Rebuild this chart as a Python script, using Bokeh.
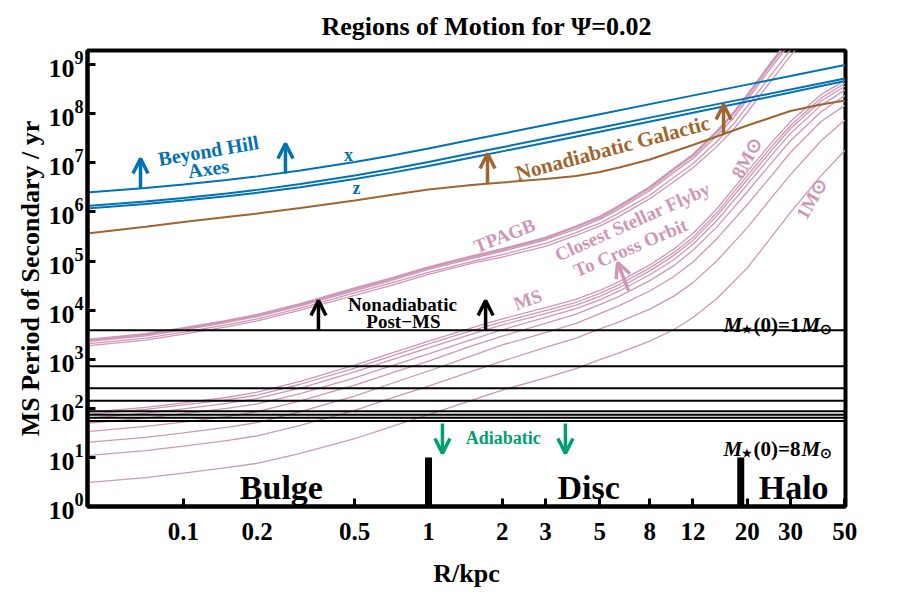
import numpy as np
from bokeh.plotting import figure
from bokeh.models import Span, Label, Arrow, OpenHead, FixedTicker, LogTickFormatter
from bokeh.embed import file_html
from bokeh.resources import INLINE

# ---------------- data ----------------
# galactocentric distance samples (kpc)
R_GRID = [0.04, 0.07, 0.1, 0.15, 0.2, 0.3, 0.5, 0.7, 1, 1.5, 2, 3, 4, 5, 6, 8, 10, 12, 15, 20, 25, 30, 40, 50]

# MS curves: log10(period / yr), one per initial stellar mass 1..8 Msun
MS_8_LOGP = [1.914, 2.02, 2.11, 2.22, 2.33, 2.55, 2.88, 3.12, 3.37, 3.64, 3.82, 4.05, 4.22, 4.40, 4.58, 4.92, 5.24, 5.56, 6.06, 6.82, 7.40, 7.84, 8.39, 8.68]
MS_7_LOGP = [1.874, 1.98, 2.07, 2.17, 2.27, 2.49, 2.82, 3.06, 3.31, 3.58, 3.76, 3.99, 4.16, 4.34, 4.52, 4.86, 5.17, 5.48, 5.98, 6.74, 7.32, 7.76, 8.32, 8.62]
MS_6_LOGP = [1.794, 1.90, 1.99, 2.10, 2.20, 2.41, 2.74, 2.98, 3.23, 3.51, 3.70, 3.93, 4.10, 4.28, 4.46, 4.80, 5.11, 5.42, 5.92, 6.66, 7.24, 7.70, 8.26, 8.56]
MS_5_LOGP = [1.694, 1.80, 1.89, 2.00, 2.09, 2.30, 2.62, 2.86, 3.11, 3.40, 3.60, 3.85, 4.03, 4.21, 4.39, 4.72, 5.02, 5.34, 5.82, 6.56, 7.14, 7.60, 8.17, 8.48]
MS_4_LOGP = [1.524, 1.63, 1.72, 1.83, 1.93, 2.15, 2.47, 2.71, 2.96, 3.27, 3.47, 3.73, 3.92, 4.11, 4.28, 4.60, 4.90, 5.22, 5.69, 6.41, 6.99, 7.45, 8.04, 8.37]
MS_3_LOGP = [1.304, 1.41, 1.50, 1.61, 1.71, 1.93, 2.25, 2.50, 2.76, 3.07, 3.29, 3.54, 3.73, 3.93, 4.09, 4.39, 4.68, 4.98, 5.45, 6.15, 6.73, 7.21, 7.84, 8.17]
MS_2_LOGP = [1.034, 1.14, 1.23, 1.34, 1.44, 1.65, 1.96, 2.20, 2.45, 2.75, 2.96, 3.24, 3.43, 3.62, 3.76, 4.02, 4.28, 4.56, 5.00, 5.68, 6.28, 6.76, 7.45, 7.87]
MS_1_LOGP = [0.484, 0.59, 0.68, 0.79, 0.88, 1.08, 1.38, 1.62, 1.87, 2.16, 2.37, 2.62, 2.81, 2.99, 3.13, 3.37, 3.60, 3.85, 4.23, 4.86, 5.48, 5.99, 6.74, 7.25]

# TPAGB bundle: log10(period / yr)
R_TPAGB = [0.04, 0.07, 0.1, 0.15, 0.2, 0.3, 0.5, 0.7, 1, 1.5, 2, 3, 4, 5, 6, 8, 10, 12, 15, 17.5, 20, 25, 30, 35, 40]
TPAGB_A_LOGP = [3.39, 3.51, 3.63, 3.78, 3.90, 4.12, 4.44, 4.64, 4.87, 5.09, 5.24, 5.47, 5.70, 5.90, 6.12, 6.50, 6.87, 7.16, 7.63, 8.00, 8.37, 9.03, 9.54, 9.95, 10.29]
TPAGB_B_LOGP = [3.36, 3.48, 3.60, 3.75, 3.87, 4.09, 4.40, 4.60, 4.83, 5.05, 5.20, 5.43, 5.65, 5.85, 6.06, 6.44, 6.80, 7.09, 7.55, 7.91, 8.29, 8.94, 9.45, 9.86, 10.20]
TPAGB_C_LOGP = [3.31, 3.43, 3.55, 3.70, 3.82, 4.04, 4.35, 4.55, 4.77, 4.99, 5.13, 5.36, 5.58, 5.77, 5.98, 6.34, 6.70, 6.98, 7.43, 7.78, 8.15, 8.79, 9.30, 9.71, 10.05]
TPAGB_D_LOGP = [3.27, 3.39, 3.51, 3.66, 3.78, 4.00, 4.30, 4.50, 4.73, 4.95, 5.08, 5.30, 5.52, 5.71, 5.91, 6.27, 6.61, 6.90, 7.33, 7.67, 8.03, 8.67, 9.18, 9.59, 9.93]

# Beyond-Hill curves for the x, y, z axes: log10(period / yr)
R_BLUE = [0.04, 0.07, 0.1, 0.15, 0.2, 0.3, 0.5, 0.7, 1, 1.5, 2, 3, 5, 10, 20, 50]
HILL_X_LOGP = [6.395, 6.487, 6.557, 6.649, 6.724, 6.844, 7.017, 7.145, 7.292, 7.468, 7.593, 7.769, 7.991, 8.292, 8.593, 8.991]
HILL_Y_LOGP = [6.120, 6.212, 6.282, 6.374, 6.449, 6.569, 6.742, 6.870, 7.017, 7.193, 7.318, 7.494, 7.716, 8.017, 8.318, 8.716]
HILL_Z_LOGP = [6.070, 6.162, 6.232, 6.319, 6.389, 6.504, 6.672, 6.795, 6.937, 7.108, 7.233, 7.409, 7.631, 7.937, 8.248, 8.666]

# Nonadiabatic galactic boundary: log10(period / yr), on R_GRID
GALACTIC_LOGP = [5.560, 5.700, 5.794, 5.896, 5.967, 6.080, 6.232, 6.344, 6.456, 6.548, 6.599, 6.670,
                 6.731, 6.813, 6.904, 7.067, 7.230, 7.363, 7.536, 7.760, 7.923, 8.055, 8.188, 8.269]

# Nonadiabatic post-MS limits for M*(0) = 1..8 Msun (period / yr)
POSTMS_P = [3900, 720, 255, 142, 87, 74, 64, 55]

# Bulge/Disc and Disc/Halo boundaries (kpc) and bar extent (yr)
BOUNDARY_R = [1.0, 18.8]
BAR_P = [1, 10]

X_TICKS = [0.1, 0.2, 0.5, 1, 2, 3, 5, 8, 12, 20, 30, 50]
X_TICK_LABELS = ["0.1", "0.2", "0.5", "1", "2", "3", "5", "8", "12", "20", "30", "50"]
Y_TICKS = [1, 10, 100, 1e3, 1e4, 1e5, 1e6, 1e7, 1e8, 1e9]

# arrows: (x_start, y_start, x_end, y_end)
BLUE_ARROWS = [(0.0668, 3.0e6, 0.0668, 1.22e7), (0.2608, 6.05e6, 0.2608, 2.47e7)]
BROWN_ARROWS = [(1.741, 3.79e6, 1.741, 1.55e7), (16.0, 3.77e7, 16.0, 1.54e8)]
BLACK_ARROWS = [(0.3556, 3900, 0.3556, 1.57e4), (1.71, 3900, 1.71, 1.57e4)]
TEAL_ARROWS = [(1.14, 49, 1.14, 12), (3.62, 49, 3.62, 12)]
PINK_ARROWS = [(6.55, 2.5e4, 5.91, 9.3e4)]

# ---------------- styling ----------------
BLUE = "#0072B2"
BROWN = "#A0652D"
PINK = "#CF97B6"
TEAL = "#009E73"
SERIF = "Liberation Serif"

p = figure(width=891, height=591, x_axis_type="log", y_axis_type="log",
           x_range=(0.0406, 50.3), y_range=(1, 1.94e9),
           output_backend="svg", toolbar_location=None,
           min_border_left=87, min_border_right=46, min_border_top=50, min_border_bottom=85)

p.title.text = "Regions of Motion for \u03a8=0.02"
p.title.text_font = SERIF
p.title.text_font_size = "26px"
p.title.text_font_style = "bold"
p.title.text_color = "black"
p.title.align = "left"
p.title.offset = 234
p.title.standoff = 19

p.grid.visible = False
p.outline_line_color = "black"
p.outline_line_width = 4
p.outline_line_alpha = 1.0
p.background_fill_color = "white"
p.border_fill_color = "white"

p.xaxis.ticker = FixedTicker(ticks=X_TICKS)
p.xaxis.major_label_overrides = {t: lab for t, lab in zip(X_TICKS, X_TICK_LABELS)}
p.yaxis.ticker = FixedTicker(ticks=Y_TICKS)
p.yaxis.formatter = LogTickFormatter()

for ax in (p.xaxis[0], p.yaxis[0]):
    ax.major_tick_in = 8
    ax.major_tick_out = 0
    ax.major_tick_line_width = 3
    ax.minor_tick_line_color = None
    ax.axis_line_width = 4
    ax.major_label_text_font = SERIF
    ax.major_label_text_font_style = "bold"
    ax.major_label_text_color = "black"

p.xaxis.major_label_text_font_size = "25px"
p.yaxis.major_label_text_font_size = "26px"
p.xaxis.major_label_standoff = 16
p.yaxis.major_label_standoff = 4

p.xaxis.axis_label = "R/kpc"
p.xaxis.axis_label_text_font = SERIF
p.xaxis.axis_label_text_font_style = "bold"
p.xaxis.axis_label_text_font_size = "26px"
p.xaxis.axis_label_text_color = "black"
p.xaxis.axis_label_standoff = 16

p.yaxis.axis_label = "MS Period of Secondary / yr"
p.yaxis.axis_label_text_font = SERIF
p.yaxis.axis_label_text_font_style = "bold"
p.yaxis.axis_label_text_font_size = "26px"
p.yaxis.axis_label_text_color = "black"
p.yaxis.axis_label_standoff = 0

# ---------------- curves ----------------
for ms in (MS_1_LOGP, MS_2_LOGP, MS_3_LOGP, MS_4_LOGP, MS_5_LOGP, MS_6_LOGP, MS_7_LOGP, MS_8_LOGP):
    p.line(R_GRID, np.power(10.0, ms), line_color=PINK, line_width=1.3)

for tp, w in ((TPAGB_A_LOGP, 2.6), (TPAGB_B_LOGP, 1.5), (TPAGB_C_LOGP, 1.3), (TPAGB_D_LOGP, 1.3)):
    p.line(R_TPAGB, np.power(10.0, tp), line_color=PINK, line_width=w)

for hill in (HILL_X_LOGP, HILL_Y_LOGP, HILL_Z_LOGP):
    p.line(R_BLUE, np.power(10.0, hill), line_color=BLUE, line_width=2)

p.line(R_GRID, np.power(10.0, GALACTIC_LOGP), line_color=BROWN, line_width=2)

for per in POSTMS_P:
    p.add_layout(Span(location=per, dimension="width", line_color="black", line_width=2))

p.segment(x0=BOUNDARY_R, y0=[BAR_P[0]] * len(BOUNDARY_R), x1=BOUNDARY_R,
          y1=[BAR_P[1]] * len(BOUNDARY_R), line_color="black", line_width=7)

# ---------------- arrows ----------------
def add_arrows(lst, color):
    for (xs, ys, xe, ye) in lst:
        p.add_layout(Arrow(end=OpenHead(size=15, line_width=3.5, line_color=color),
                           x_start=xs, y_start=ys, x_end=xe, y_end=ye,
                           line_color=color, line_width=3.5))

add_arrows(BLUE_ARROWS, BLUE)
add_arrows(BROWN_ARROWS, BROWN)
add_arrows(BLACK_ARROWS, "black")
add_arrows(TEAL_ARROWS, TEAL)
add_arrows(PINK_ARROWS, PINK)

# ---------------- text ----------------
def lab(x, y, text, color, size, angle=0.0, style="bold", align="center", baseline="middle",
        xoff=0, yoff=0):
    p.add_layout(Label(x=x, y=y, text=text, text_color=color, text_font=SERIF,
                       text_font_size=size, text_font_style=style, angle=angle,
                       text_align=align, text_baseline=baseline, x_offset=xoff, y_offset=yoff))

lab(0.1265, 1.78e7, "Beyond Hill", BLUE, "20px", angle=0.17)
lab(0.1265, 7.66e6, "Axes", BLUE, "20px", angle=0.14)
lab(0.4716, 1.41e7, "x", BLUE, "18px")
lab(0.508, 3.14e6, "z", BLUE, "18px")
lab(5.64, 2.0e7, "Nonadiabatic Galactic", BROWN, "21px", angle=0.26)
lab(2.04, 3.31e5, "TPAGB", PINK, "19px", angle=0.37)
lab(2.54, 1.64e4, "MS", PINK, "19px", angle=0.35)
lab(6.8, 6.37e5, "Closest Stellar Flyby", PINK, "19px", angle=0.42)
lab(6.67, 1.88e5, "To Cross Orbit", PINK, "19px", angle=0.40)
lab(19.9, 1.28e7, "8M\u2299", PINK, "19px", angle=1.05)
lab(36.6, 1.87e6, "1M\u2299", PINK, "19px", angle=1.05)
lab(0.783, 1.30e4, "Nonadiabatic", "black", "19px")
lab(0.79, 5.86e3, "Post\u2212MS", "black", "19px")
lab(2.02, 25.4, "Adiabatic", TEAL, "18px")
lab(0.251, 2.44, "Bulge", "black", "34px")
lab(4.5, 2.44, "Disc", "black", "34px")
lab(30.9, 2.44, "Halo", "black", "34px")

# M*(0)=kM_sun labels built from pieces
for base_p, k in ((5.09e3, "1"), (15.0, "8")):
    lab(16.0, base_p, "M", "black", "21px", style="bold italic", align="left", baseline="alphabetic")
    lab(16.0, base_p, "\u2605", "black", "11px", align="left", baseline="alphabetic", xoff=18, yoff=-4)
    lab(16.0, base_p, "(0)=" + k, "black", "21px", align="left", baseline="alphabetic", xoff=30)
    lab(16.0, base_p, "M", "black", "21px", style="bold italic", align="left", baseline="alphabetic", xoff=78)
    lab(16.0, base_p, "\u2299", "black", "14px", align="left", baseline="alphabetic", xoff=96, yoff=-5)

open("out.html", "w").write(file_html(p, INLINE))
